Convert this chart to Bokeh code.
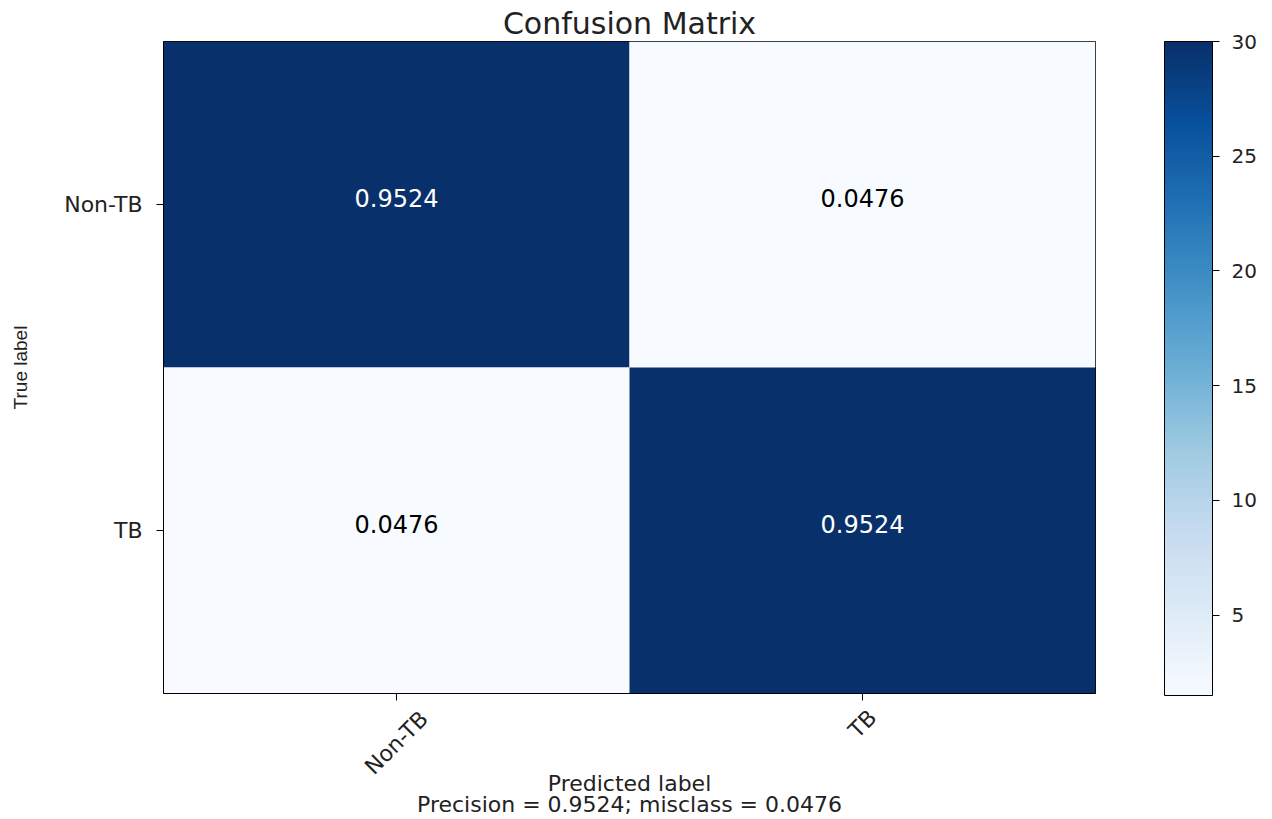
import numpy as np
from bokeh.plotting import figure
from bokeh.layouts import column
from bokeh.models import (ColumnDataSource, LinearColorMapper, ColorBar, FixedTicker,
                          Range1d)
from bokeh.palettes import Blues256
from bokeh.core.properties import value
from bokeh.embed import file_html
from bokeh.resources import INLINE

# ---- data ----
classes = ["Non-TB", "TB"]
counts = [[30, 1.5], [1.5, 30]]
normalized = [[0.9524, 0.0476], [0.0476, 0.9524]]
cbar_low = 1.5
cbar_high = 30
cbar_ticks = [5, 10, 15, 20, 25, 30]
title_text = "Confusion Matrix"
xlabel_lines = ["Predicted label", "Precision = 0.9524; misclass = 0.0476"]
ylabel = "True label"

FONT = "DejaVu Sans"
TXT = "#222222"

xs, ys, cs, labels, tcolors = [], [], [], [], []
for i in range(len(classes)):
    for j in range(len(classes)):
        xs.append(j)
        ys.append(i)
        cs.append(counts[i][j])
        labels.append(f"{normalized[i][j]:.4f}")
        tcolors.append("white" if counts[i][j] > (cbar_high + cbar_low) / 2 else "black")

src = ColumnDataSource(dict(x=xs, y=ys, c=cs, label=labels, tcolor=tcolors))

mapper = LinearColorMapper(palette=list(Blues256[::-1]), low=cbar_low, high=cbar_high)

W = 1264
H_MAIN = 703
H_BOTTOM = 114
LEFT, RIGHT_EDGE, TOP, BOTTOM_EDGE = 163, 1095, 41, 693

p = figure(width=W, height=H_MAIN, output_backend="svg", toolbar_location=None,
           x_range=Range1d(-0.5, 1.5), y_range=Range1d(1.5, -0.5),
           min_border_left=LEFT, min_border_right=W - RIGHT_EDGE, min_border_top=TOP,
           min_border_bottom=H_MAIN - BOTTOM_EDGE)

p.rect(x="x", y="y", width=1, height=1, source=src,
       fill_color={"field": "c", "transform": mapper}, line_color=None)
p.text(x="x", y="y", text="label", source=src, text_color="tcolor",
       text_align="center", text_baseline="middle", y_offset=-7,
       text_font=value(FONT), text_font_size="24px")

p.title.text = title_text
p.title.align = "center"
p.title.vertical_align = "middle"
p.title.text_font = FONT
p.title.text_font_size = "30px"
p.title.text_font_style = "normal"
p.title.text_color = TXT
p.title.standoff = 0
p.title.offset = 0

p.grid.visible = False
p.outline_line_color = "black"
p.outline_line_width = 1
p.background_fill_color = "white"
p.border_fill_color = "white"

for ax in (p.xaxis[0], p.yaxis[0]):
    ax.ticker = FixedTicker(ticks=[0, 1])
    ax.major_tick_out = 7
    ax.major_tick_in = 0
    ax.minor_tick_line_color = None
    ax.major_tick_line_color = "black"
    ax.axis_line_color = "black"
    ax.major_label_text_font = FONT
    ax.major_label_text_color = TXT
    ax.axis_label_text_font_style = "normal"
    ax.axis_label_text_color = TXT

# x axis of the matrix: tick marks only (labels are drawn centred & rotated below)
p.xaxis.major_label_overrides = {0: "", 1: ""}
p.xaxis.major_label_text_font_size = "1px"
p.xaxis.major_label_standoff = 0

p.yaxis.major_label_overrides = {0: classes[0], 1: classes[1]}
p.yaxis.major_label_text_font_size = "22px"
p.yaxis.major_label_standoff = 14
p.yaxis.axis_label = ylabel
p.yaxis.axis_label_text_font = "Liberation Sans"
p.yaxis.axis_label_text_font_size = "19px"
p.yaxis.axis_label_standoff = 30

cb = ColorBar(color_mapper=mapper, ticker=FixedTicker(ticks=cbar_ticks),
              width=48, height=654, padding=0, margin=0,
              major_tick_out=7, major_tick_in=0, major_tick_line_color="black",
              bar_line_color="black", border_line_color=None,
              background_fill_color=None, label_standoff=12,
              major_label_text_font=FONT, major_label_text_font_size="20px",
              major_label_text_color=TXT, location=(69, -2))
p.add_layout(cb, "right")

# ---- strip below: rotated x tick labels (centred on ticks) and x label ----
p2 = figure(width=W, height=H_BOTTOM, output_backend="svg", toolbar_location=None,
            x_range=p.x_range, y_range=Range1d(H_BOTTOM, 0),
            min_border_left=LEFT, min_border_right=W - RIGHT_EDGE,
            min_border_top=0, min_border_bottom=0)
p2.axis.visible = False
p2.grid.visible = False
p2.outline_line_color = None
p2.background_fill_color = "white"
p2.border_fill_color = "white"

XT_FS = 22
gap_below_frame = 13 - (H_MAIN - BOTTOM_EDGE)
tick_y = []
for name in classes:
    w = 0.61 * len(name) * XT_FS
    tick_y.append(gap_below_frame + (w + XT_FS) * 0.3536)
p2.text(x=list(range(len(classes))), y=tick_y, text=classes, angle=np.pi / 4,
        text_align="center", text_baseline="middle", text_font=value(FONT),
        text_font_size=f"{XT_FS}px", text_color=TXT)

XL_FS = 22
line_y = [80 + k * 21 for k in range(len(xlabel_lines))]
p2.text(x=[0.5] * len(xlabel_lines), y=line_y, text=xlabel_lines,
        text_align="center", text_baseline="middle",
        text_font=value(FONT), text_font_size=f"{XL_FS}px", text_color=TXT)

layout = column(p, p2, spacing=0)
open("out.html", "w").write(file_html(layout, INLINE))
